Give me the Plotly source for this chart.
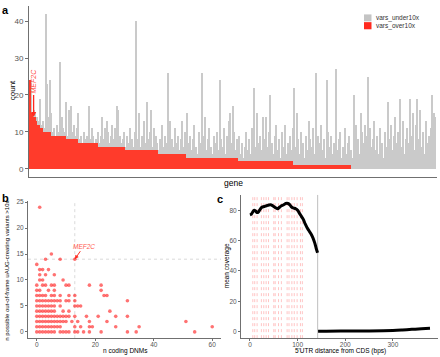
import plotly.graph_objects as go

W, H = 440, 357
FONT = "Liberation Sans, Arial, sans-serif"
AXIS_COL = "#707070"
TICK_COL = "#555555"


def fx(px):
    return px / W


def fy(py):
    return 1 - py / H


# ---------------- Panel a data ----------------
vars_over10x = [
    24, 15, 14, 14, 13, 12, 12, 11, 11,
    10, 10, 10, 10, 10,
    9, 9, 9, 9, 9, 9, 9, 9, 9, 9,
    8, 8, 8, 8, 8, 8, 8, 8,
    7, 7, 7, 7, 7, 7, 7, 7, 7, 7, 7, 7, 7, 7,
    6, 6, 6, 6, 6, 6, 6, 6, 6, 6, 6, 6, 6, 6, 6, 6, 6, 6,
    5, 5, 5, 5, 5, 5, 5, 5, 5, 5, 5, 5, 5, 5, 5, 5, 5, 5, 5, 5, 5, 5,
    4, 4, 4, 4, 4, 4, 4, 4, 4, 4, 4, 4, 4, 4, 4, 4, 4, 4, 4,
    3, 3, 3, 3, 3, 3, 3, 3, 3, 3, 3, 3, 3, 3, 3, 3, 3, 3, 3, 3,
    3, 3, 3, 3, 3, 3, 3, 3, 3, 3, 3, 3, 3, 3, 3,
    2, 2, 2, 2, 2, 2, 2, 2, 2, 2, 2, 2, 2, 2, 2, 2, 2, 2, 2, 2,
    2, 2, 2, 2, 2, 2, 2, 2, 2, 2, 2, 2, 2, 2, 2, 2, 2,
    1, 1, 1, 1, 1, 1, 1, 1, 1, 1, 1, 1, 1, 1, 1, 1, 1, 1, 1, 1,
    1, 1, 1, 1, 1, 1, 1, 1, 1, 1, 1, 1, 1, 1, 1, 1, 1, 1, 1,
    0, 0, 0, 0, 0, 0, 0, 0, 0, 0, 0, 0, 0, 0, 0, 0, 0, 0, 0, 0,
    0, 0, 0, 0, 0, 0, 0, 0, 0, 0, 0, 0, 0, 0, 0, 0, 0, 0, 0, 0,
    0, 0, 0, 0, 0, 0, 0, 0, 0, 0, 0, 0, 0, 0, 0, 0, 0,
]

# total variants per gene (under10x + over10x)
vars_total = [
    24, 15, 16, 15, 14, 13, 19, 12, 13, 11, 42, 23, 14, 24, 15, 10, 11, 9, 12, 10,
    29, 14, 11, 10, 18, 9, 16, 17, 10, 12, 9, 11, 15, 8, 9, 7, 10, 8, 9, 17,
    8, 11, 9, 7, 8, 10, 7, 9, 14, 8, 11, 13, 10, 7, 9, 12, 8, 11, 17, 16,
    9, 7, 8, 10, 6, 9, 7, 11, 8, 6, 10, 40, 8, 15, 6, 9, 13, 7, 18, 8,
    10, 16, 6, 11, 9, 7, 5, 8, 12, 6, 9, 7, 26, 10, 13, 8, 6, 11, 7, 9,
    5, 8, 13, 6, 10, 15, 7, 9, 5, 8, 12, 6, 4, 10, 7, 26, 9, 14, 5, 8,
    11, 6, 4, 9, 7, 10, 5, 24, 8, 6, 11, 4, 9, 13, 15, 7, 17, 10, 5, 8,
    9, 4, 7, 3, 6, 10, 5, 8, 4, 11, 22, 6, 15, 7, 9, 5, 14, 8, 14, 6,
    10, 20, 7, 4, 9, 12, 5, 8, 3, 10, 6, 12, 4, 7, 9, 5, 11, 22, 6, 15,
    8, 4, 10, 7, 3, 9, 5, 13, 8, 6, 11, 4, 26, 9, 7, 12, 5, 8, 3, 24,
    10, 6, 9, 4, 7, 27, 5, 8, 10, 3, 6, 11, 4, 7, 9, 5, 3, 20, 6, 12,
    8, 4, 15, 10, 7, 12, 9, 25, 11, 6, 8, 13, 5, 9, 4, 11, 7, 3, 10, 6,
    18, 8, 12, 5, 9, 14, 7, 10, 19, 6, 13, 4, 8, 11, 7, 19, 9, 15, 5, 12,
    19, 8, 16, 6, 10, 4, 13, 7, 9, 11, 20, 15, 14,
]
gene_index = list(range(len(vars_total)))
MEF2C_INDEX = 2
MEF2C_COUNT = 14

# ---------------- Panel b data ----------------
coding_dnms = [
    1, 5, 3, 8, 13, 0,
    1, 2, 4,
    1, 3, 6,
    1, 2, 9,
    0, 2, 3, 5, 6, 10, 11, 18, 22,
    0, 1, 4, 6, 22,
    0, 1, 2, 3, 5, 6, 8, 11, 13, 23, 24,
    0, 1, 2, 3, 4, 5, 6, 7, 8, 10, 11, 13, 31,
    0, 1, 2, 3, 4, 5, 6, 8, 13, 14, 15,
    0, 1, 2, 3, 4, 5, 6, 9, 11, 25,
    0, 1, 2, 3, 4, 5, 6, 7, 8, 9, 10, 11, 13, 17, 21, 27, 31,
    0, 1, 2, 3, 4, 5, 6, 7, 8, 9, 10, 12, 14, 18, 24, 51,
    0, 1, 2, 3, 4, 5, 6, 7, 8, 13, 15, 18, 19, 27, 35, 60,
    0, 1, 2, 3, 4, 5, 6, 8, 9, 10, 11, 13, 14, 16, 18, 22, 31, 34, 54,
]
uaug_over10x = [
    24, 15, 14, 14, 14, 13,
    12, 12, 12,
    11, 11, 11,
    10, 10, 10,
    9, 9, 9, 9, 9, 9, 9, 9, 9,
    8, 8, 8, 8, 8,
    7, 7, 7, 7, 7, 7, 7, 7, 7, 7, 7,
    6, 6, 6, 6, 6, 6, 6, 6, 6, 6, 6, 6, 6,
    5, 5, 5, 5, 5, 5, 5, 5, 5, 5, 5,
    4, 4, 4, 4, 4, 4, 4, 4, 4, 4,
    3, 3, 3, 3, 3, 3, 3, 3, 3, 3, 3, 3, 3, 3, 3, 3, 3,
    2, 2, 2, 2, 2, 2, 2, 2, 2, 2, 2, 2, 2, 2, 2, 2,
    1, 1, 1, 1, 1, 1, 1, 1, 1, 1, 1, 1, 1, 1, 1, 1,
    0, 0, 0, 0, 0, 0, 0, 0, 0, 0, 0, 0, 0, 0, 0, 0, 0, 0, 0,
]
MEF2C_DNMS = 13

# ---------------- Panel c data ----------------
utr_dist_1 = [0, 3, 6, 9, 12, 15, 18, 21, 25, 30, 35, 40, 45, 50, 55, 58, 62, 66, 70,
              75, 80, 84, 88, 92, 96, 100, 104, 108, 112, 116, 120, 124, 128, 132,
              136, 139, 142]
coverage_1 = [77, 77.5, 79, 80, 79.5, 78.5, 79, 80.5, 82, 82.5, 83, 83.5, 83.5, 82.5,
              81.5, 81, 82, 83, 83.5, 84.5, 84.5, 83.5, 82, 81.5, 81, 80, 78, 76, 74,
              71, 68.5, 66.5, 64.5, 62, 58.5, 55, 52]
utr_dist_2 = [143, 160, 200, 250, 300, 320, 340, 360, 378]
coverage_2 = [0.3, 0.3, 0.4, 0.5, 0.8, 1.1, 1.5, 1.9, 2.2]
uaug_positions = [6, 10, 15, 24, 29, 34, 39, 50, 53, 60, 66, 78, 82, 88, 93, 99, 106, 110]
cds_boundary = 142

fig = go.Figure()

# Panel a bars
fig.add_trace(go.Bar(x=gene_index, y=vars_total, name="vars_under10x", width=0.7,
                     marker=dict(color="#CACACA", line=dict(width=0)),
                     xaxis="x", yaxis="y", showlegend=False))
fig.add_trace(go.Bar(x=gene_index, y=vars_over10x, name="vars_over10x", width=1.0,
                     marker=dict(color="#FF3B2B", line=dict(width=0)),
                     xaxis="x", yaxis="y", showlegend=False))

# Panel b scatter
fig.add_trace(go.Scatter(x=coding_dnms, y=uaug_over10x, mode="markers",
                         marker=dict(color="rgba(255,20,20,0.6)", size=3.6, line=dict(width=0)),
                         xaxis="x2", yaxis="y2", showlegend=False))

# Panel c lines
fig.add_trace(go.Scatter(x=utr_dist_1, y=coverage_1, mode="lines",
                         line=dict(color="black", width=3, shape="spline"),
                         xaxis="x3", yaxis="y3", showlegend=False))
fig.add_trace(go.Scatter(x=utr_dist_2, y=coverage_2, mode="lines",
                         line=dict(color="black", width=3, shape="spline"),
                         xaxis="x3", yaxis="y3", showlegend=False))

shapes = []
# panel b reference lines
shapes.append(dict(type="line", xref="x2", yref="y2", x0=MEF2C_DNMS, x1=MEF2C_DNMS,
                   y0=-1.2, y1=25.2, line=dict(color="#CFCFCF", width=0.8, dash="dot"),
                   layer="below"))
shapes.append(dict(type="line", xref="x2", yref="y2", x0=-3, x1=63,
                   y0=MEF2C_COUNT, y1=MEF2C_COUNT,
                   line=dict(color="#CFCFCF", width=0.8, dash="dot"), layer="below"))
# panel c lines
for p in uaug_positions:
    shapes.append(dict(type="line", xref="x3", yref="y3", x0=p, x1=p, y0=-4.3, y1=90.3,
                       line=dict(color="rgba(255,90,90,0.45)", width=0.8, dash="dot"),
                       layer="below"))
shapes.append(dict(type="line", xref="x3", yref="y3", x0=cds_boundary, x1=cds_boundary,
                   y0=-4.3, y1=90.3, line=dict(color="#C8C8C8", width=1.2), layer="below"))

# manual legend swatches
shapes.append(dict(type="rect", xref="paper", yref="paper", x0=fx(364), x1=fx(371.5),
                   y0=fy(18.5), y1=fy(11.5), fillcolor="#C4C4C4", line=dict(width=0)))
shapes.append(dict(type="rect", xref="paper", yref="paper", x0=fx(364), x1=fx(371.5),
                   y0=fy(26.5), y1=fy(19.3), fillcolor="#FF2A1F", line=dict(width=0)))

ann = []


def text(x, y, s, size=8, color="black", angle=0, bold=False, xanchor="center", yanchor="middle"):
    if bold:
        s = "<b>" + s + "</b>"
    ann.append(dict(x=fx(x), y=fy(y), xref="paper", yref="paper", text=s, showarrow=False,
                    font=dict(size=size, color=color, family=FONT), textangle=angle,
                    xanchor=xanchor, yanchor=yanchor))


text(5, 7, "a", size=11, bold=True)
text(5, 197, "b", size=11, bold=True)
text(220, 198, "c", size=11, bold=True)

text(374, 15, "vars_under10x", size=6.5, color="#333333", xanchor="left")
text(374, 23, "vars_over10x", size=6.5, color="#333333", xanchor="left")

text(12, 88, "count", size=8, angle=-90)
text(233, 182, "gene", size=8.5)
text(7, 270, "n possible out-of-frame uAUG-creating variants >10x", size=6, angle=-90)
text(125, 350.5, "n coding DNMs", size=6.5)
text(226.5, 265, "mean coverage", size=6.5, angle=-90)
text(340, 351, "5'UTR distance from CDS (bps)", size=6.5)

# MEF2C annotations, panel a: arrow plus rotated label
ann.append(dict(x=MEF2C_INDEX, y=MEF2C_COUNT, xref="x", yref="y", text="",
                showarrow=True, arrowhead=2, arrowsize=0.8, arrowwidth=1.3,
                arrowcolor="#FF2A1F", axref="x", ayref="y", ax=MEF2C_INDEX, ay=20.4))
ann.append(dict(x=MEF2C_INDEX, y=23.8, xref="x", yref="y", text="<i>MEF2C</i>",
                textangle=-90, showarrow=False,
                font=dict(size=7, color="#FF4A3F", family=FONT)))
# panel b
ann.append(dict(x=MEF2C_DNMS, y=MEF2C_COUNT, xref="x2", yref="y2", text="<i>MEF2C</i>",
                showarrow=True, arrowhead=2, arrowsize=0.8, arrowwidth=1.0,
                arrowcolor="#FF2A1F", ax=9, ay=-13, font=dict(size=6.5, color="#FF5A50", family=FONT)))

axis_common = dict(showgrid=False, zeroline=False, showline=True, linecolor=AXIS_COL,
                   linewidth=1, ticks="outside", ticklen=2, tickcolor=AXIS_COL,
                   tickfont=dict(size=6.5, color=TICK_COL, family=FONT))

fig.update_layout(
    width=W, height=H,
    margin=dict(l=0, r=0, t=0, b=0),
    paper_bgcolor="white", plot_bgcolor="white",
    barmode="overlay", bargap=0,
    font=dict(family=FONT),
    xaxis=dict(axis_common, domain=[fx(29), fx(437)], range=[-1.1, 273.1],
               showticklabels=False, ticks="", anchor="y"),
    yaxis=dict(axis_common, domain=[fy(175), fy(3)], range=[-2.1, 44.1],
               tickvals=[0, 10, 20, 30, 40], anchor="x", ticklen=3,
               tickfont=dict(size=8, color=TICK_COL, family=FONT)),
    xaxis2=dict(axis_common, domain=[fx(28), fx(221)], range=[-3, 63],
                tickvals=[0, 20, 40, 60], anchor="y2", ticklabelstandoff=-2),
    yaxis2=dict(axis_common, domain=[fy(338), fy(199.7)], range=[-1.2, 25.2],
                tickvals=[0, 5, 10, 15, 20, 25], anchor="x2"),
    xaxis3=dict(axis_common, domain=[fx(241), fx(438)], range=[-18.8, 394.8],
                tickvals=[0, 100, 200, 300], anchor="y3", ticklabelstandoff=-2),
    yaxis3=dict(axis_common, domain=[fy(338), fy(193.3)], range=[-4.3, 90.3],
                tickvals=[0, 20, 40, 60, 80], anchor="x3"),
    shapes=shapes,
    annotations=ann,
)

fig.write_html("out.html", config={"displayModeBar": False},
               post_script="document.body.style.margin='0';")
